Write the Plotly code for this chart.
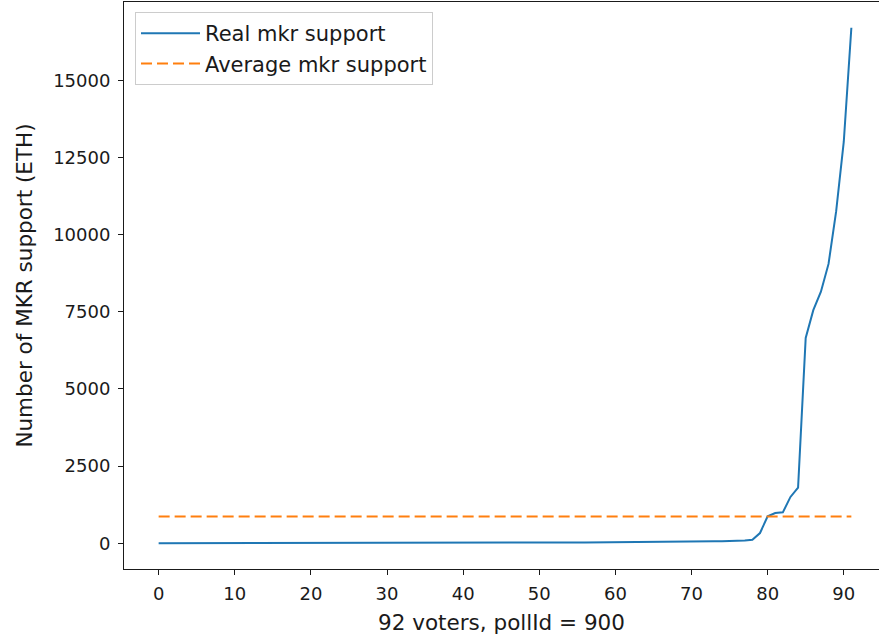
import plotly.graph_objects as go

# ---- data ----
voter_index = list(range(92))
real_support = [
    0.01, 0.02, 0.05, 0.1, 0.1, 0.2, 0.3, 0.4, 0.5, 0.6,        # 0-9
    0.8, 1.0, 1.0, 1.2, 1.5, 1.8, 2.0, 2.2, 2.5, 3.0,           # 10-19
    3.2, 3.5, 4.0, 4.2, 4.5, 5.0, 5.0, 5.5, 6.0, 6.5,           # 20-29
    7.0, 7.5, 8.0, 8.5, 9.0, 9.5, 10, 10.5, 11, 11.5,           # 30-39
    12, 12.5, 13, 13.5, 14, 15, 15.5, 16, 17, 18,               # 40-49
    19, 20, 21, 22, 23, 24, 25, 26, 28, 30,                     # 50-59
    32, 34, 36, 38, 40, 42, 45, 48, 50, 55,                     # 60-69
    58, 60, 62, 65, 68, 70, 75, 90, 110, 330,                   # 70-79
    870, 980, 1000, 1500, 1800, 6650, 7550, 8150, 9050, 10750,  # 80-89
    13000, 16700,                                               # 90-91
]
average_support = [sum(real_support) / len(real_support)] * len(real_support)

x_ticks = [0, 10, 20, 30, 40, 50, 60, 70, 80, 90]
y_ticks = [0, 2500, 5000, 7500, 10000, 12500, 15000]
y_tick_labels = [str(v) for v in y_ticks]
x_tick_labels = [str(v) for v in x_ticks]

series_names = ["Real mkr support", "Average mkr support"]
x_title = "92 voters, pollId = 900"
y_title = "Number of MKR support (ETH)"

# ---- layout geometry (matplotlib-like) ----
W, H = 879, 641
L, T, B = 124, 2, 72
plot_w = W - L
plot_h = H - T - B
full_w = 886 - L  # matplotlib axes extends past the picture edge

n = len(real_support)
xmin = -0.05 * (n - 1)
xmax_full = (n - 1) * 1.05
xmax = xmin + (xmax_full - xmin) * plot_w / full_w
ymax_data = max(max(real_support), max(average_support))
ymin_data = min(min(real_support), min(average_support))
yspan = ymax_data - ymin_data
yr = [ymin_data - 0.05 * yspan, ymax_data + 0.05 * yspan]

INK = "#1a1a1a"
tick_font = dict(family="DejaVu Sans", size=18, color=INK)
title_font = dict(family="DejaVu Sans", size=21.5, color=INK)
legend_font = dict(family="DejaVu Sans", size=21, color=INK)

fig = go.Figure()
fig.add_trace(go.Scatter(
    x=voter_index, y=real_support, mode="lines", name=series_names[0],
    line=dict(color="#1f77b4", width=2), legendgroup="a",
))
fig.add_trace(go.Scatter(
    x=voter_index, y=average_support, mode="lines", name=series_names[1],
    line=dict(color="#ff7f0e", width=2, dash="11px,5px"), legendgroup="b",
))

fig.update_layout(
    width=W, height=H,
    margin=dict(l=L, r=0, t=T, b=B, autoexpand=False),
    paper_bgcolor="white", plot_bgcolor="white",
    font=dict(family="DejaVu Sans", size=18, color=INK),
    showlegend=True,
    legend=dict(
        x=(135 - L) / plot_w, y=1 - (12 - T) / plot_h,
        xanchor="left", yanchor="top",
        bgcolor="rgba(255,255,255,0.8)", bordercolor="#cccccc", borderwidth=1,
        font=legend_font, itemwidth=59,
        tracegroupgap=0, traceorder="grouped",
    ),
    xaxis=dict(
        range=[xmin, xmax], tickmode="array", tickvals=x_ticks, ticktext=x_tick_labels,
        ticks="outside", ticklen=5, tickwidth=1, tickcolor=INK,
        tickfont=tick_font, ticklabelstandoff=3,
        showline=True, linecolor=INK, linewidth=1, mirror=True,
        showgrid=False, zeroline=False,
        title=dict(text=x_title, font=title_font, standoff=12),
    ),
    yaxis=dict(
        range=yr, tickmode="array", tickvals=y_ticks, ticktext=y_tick_labels,
        ticks="outside", ticklen=5, tickwidth=1, tickcolor=INK,
        tickfont=tick_font, ticklabelstandoff=4,
        showline=True, linecolor=INK, linewidth=1,
        showgrid=False, zeroline=False,
        title=dict(text=y_title, font=title_font, standoff=14),
    ),
)

fig.write_html("out.html")
